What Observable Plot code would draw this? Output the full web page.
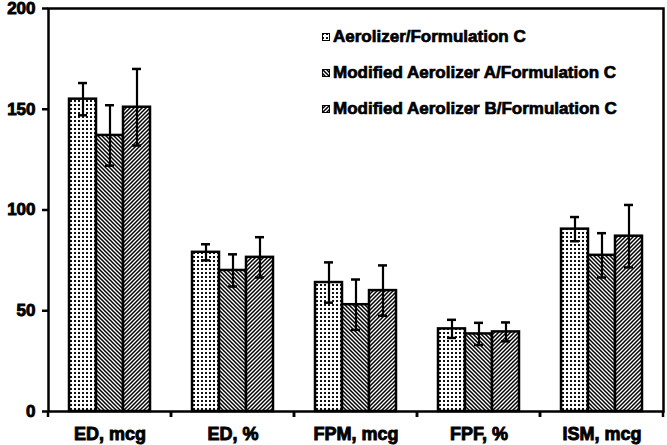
<!DOCTYPE html>
<html>
<head>
<meta charset="utf-8">
<script src="https://cdn.jsdelivr.net/npm/d3@7"></script>
<script src="https://cdn.jsdelivr.net/npm/@observablehq/plot@0.6"></script>
<style>
  html, body { margin: 0; padding: 0; background: #fff; }
  #wrap { position: relative; width: 667px; height: 445px; }
  #wrap svg text { font-family: "Liberation Sans", Arial, sans-serif; font-weight: bold; stroke: #000; stroke-width: 0.9px; fill: #000; }
  #legend { position: absolute; left: 322px; top: 19px; font-family: "Liberation Sans", Arial, sans-serif; font-weight: bold; font-size: 17px; -webkit-text-stroke: 0.7px #000; color: #000; }
  #legend .row { height: 36px; display: flex; align-items: center; white-space: nowrap; }
  #legend svg { margin-right: 3px; }
</style>
</head>
<body>
<svg width="0" height="0" style="position:absolute">
  <defs>
    <pattern id="pDots" patternUnits="userSpaceOnUse" width="4" height="4">
      <rect width="4" height="4" fill="#fff"/>
      <rect x="0" y="0" width="2" height="2" fill="#111"/>
    </pattern>
    <pattern id="pBack" patternUnits="userSpaceOnUse" width="4" height="4">
      <rect width="4" height="4" fill="#fff"/>
      <path d="M-1,-1L5,5M3,-1L5,1M-1,3L1,5" stroke="#000" stroke-width="1.5"/>
    </pattern>
    <pattern id="pFwd" patternUnits="userSpaceOnUse" width="4" height="4">
      <rect width="4" height="4" fill="#fff"/>
      <path d="M-1,5L5,-1M-1,1L1,-1M3,5L5,3" stroke="#000" stroke-width="1.5"/>
    </pattern>
  </defs>
</svg>
<div id="wrap"></div>
<script>
const categories = ["ED, mcg", "ED, %", "FPM, mcg", "FPF, %", "ISM, mcg"];
const series = ["Aerolizer/Formulation C", "Modified Aerolizer A/Formulation C", "Modified Aerolizer B/Formulation C"];
const meansAerolizer = [155, 79, 64, 41, 90.5];
const meansModA = [137, 70, 53, 38.5, 77.5];
const meansModB = [151, 76.5, 60, 39.5, 87];
const sdAerolizer = [8, 4, 10, 4.5, 6];
const sdModA = [15, 8, 12.5, 5.5, 11];
const sdModB = [19, 10, 12.5, 4.7, 15.5];
const yTicks = [0, 50, 100, 150, 200];
const patterns = ["url(#pDots)", "url(#pBack)", "url(#pFwd)"];

const meansBySeries = [meansAerolizer, meansModA, meansModB];
const sdBySeries = [sdAerolizer, sdModA, sdModB];
const data = [];
categories.forEach((c, i) => {
  series.forEach((s, j) => {
    data.push({cat: c, series: s, value: meansBySeries[j][i], sd: sdBySeries[j][i]});
  });
});

const svgns = "http://www.w3.org/2000/svg";
function boundaryTicks(index, scales, values, dims) {
  const g = document.createElementNS(svgns, "g");
  const y0 = scales.y(0);
  for (const x of [dims.marginLeft, dims.width - dims.marginRight]) {
    const l = document.createElementNS(svgns, "line");
    l.setAttribute("x1", x); l.setAttribute("x2", x);
    l.setAttribute("y1", y0); l.setAttribute("y2", y0 + 6);
    l.setAttribute("stroke", "#000"); l.setAttribute("stroke-width", 2.5);
    g.appendChild(l);
  }
  return g;
}

const chart = Plot.plot({
  width: 667,
  height: 445,
  marginLeft: 46,
  marginRight: 2,
  marginTop: 8,
  marginBottom: 34,
  style: {background: "#fff", overflow: "visible"},
  fx: {domain: categories, padding: 0, label: null, axis: null},
  x: {domain: series, paddingInner: 0, paddingOuter: 0.71, axis: null},
  y: {domain: [0, 200], label: null, axis: null},
  color: {domain: series, range: patterns},
  marks: [
    Plot.barY(data, {fx: "cat", x: "series", y: "value", fill: "series", stroke: "#000", strokeWidth: 2.5}),
    Plot.ruleX(data, {fx: "cat", x: "series", y1: d => d.value - d.sd, y2: d => d.value + d.sd, stroke: "#000", strokeWidth: 2.2}),
    Plot.tickY(data, {fx: "cat", x: "series", y: d => d.value + d.sd, stroke: "#000", strokeWidth: 2.5, insetLeft: 9, insetRight: 9}),
    Plot.tickY(data, {fx: "cat", x: "series", y: d => d.value - d.sd, stroke: "#000", strokeWidth: 2.5, insetLeft: 9, insetRight: 9}),
    Plot.frame({facet: "super", stroke: "#000", strokeWidth: 2.5}),
    boundaryTicks,
    Plot.axisY({ticks: yTicks, tickSize: 6, tickPadding: 7, fontSize: 17, fontWeight: "bold", strokeWidth: 2.5, label: null}),
    Plot.axisFx({anchor: "bottom", tickSize: 0, tickPadding: 16, fontSize: 18, fontWeight: "bold", label: null})
  ]
});
document.getElementById("wrap").appendChild(chart);

const legend = document.createElement("div");
legend.id = "legend";
series.forEach((s, j) => {
  const row = document.createElement("div");
  row.className = "row";
  const sw = document.createElementNS(svgns, "svg");
  sw.setAttribute("width", 8); sw.setAttribute("height", 8);
  const r = document.createElementNS(svgns, "rect");
  r.setAttribute("x", 0.5); r.setAttribute("y", 0.5); r.setAttribute("width", 7); r.setAttribute("height", 7);
  r.setAttribute("fill", patterns[j]); r.setAttribute("stroke", "#000"); r.setAttribute("stroke-width", 1);
  sw.appendChild(r);
  row.appendChild(sw);
  const t = document.createElement("span");
  t.textContent = s;
  row.appendChild(t);
  legend.appendChild(row);
});
document.getElementById("wrap").appendChild(legend);
</script>
</body>
</html>
